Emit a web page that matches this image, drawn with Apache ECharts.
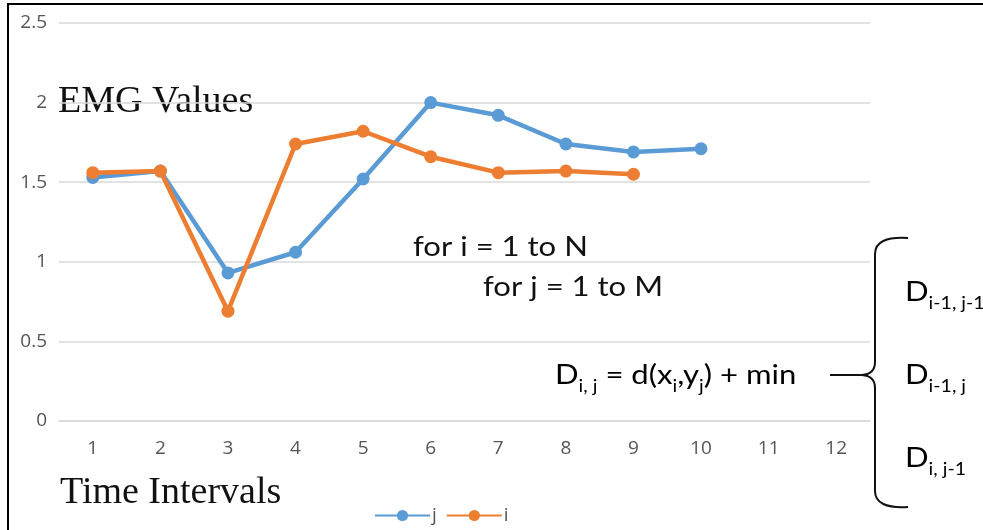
<!DOCTYPE html>
<html>
<head>
<meta charset="utf-8">
<script src="https://cdn.jsdelivr.net/npm/echarts@6/dist/echarts.min.js"></script>
<style>
  html, body { margin: 0; padding: 0; background: #fff; }
  #chart { width: 983px; height: 530px; }
</style>
</head>
<body>
<div id="chart"></div>
<script>
  // time intervals on the x axis
  const intervals = ['1', '2', '3', '4', '5', '6', '7', '8', '9', '10', '11', '12'];
  // EMG values
  const valuesJ = [1.53, 1.57, 0.93, 1.06, 1.52, 2.0, 1.92, 1.74, 1.69, 1.71];
  const valuesI = [1.56, 1.57, 0.69, 1.74, 1.82, 1.66, 1.56, 1.57, 1.55];
  const yTicks = [0, 0.5, 1, 1.5, 2, 2.5];

  const sans = 'Lato, "Open Sans", sans-serif';
  const labelFont = '"Open Sans", Lato, sans-serif';
  const serif = '"Liberation Serif", "DejaVu Serif", serif';
  const sub = { fontFamily: sans, fontSize: 17, padding: [22, 0, 0, 0], color: '#1b1b33' };
  const big = { fontFamily: sans, fontSize: 27, color: '#111' };
  const tick = { fontFamily: labelFont, fontSize: 19, color: '#555' };
  const ink = { stroke: '#111', lineWidth: 2, fill: 'none' };

  const chart = echarts.init(document.getElementById('chart'));

  chart.setOption({
    animation: false,
    grid: { left: 59, right: 113, top: 23, bottom: 109 },
    legend: {
      data: ['j', 'i'],
      left: 369,
      top: 501,
      itemWidth: 55,
      itemHeight: 14,
      itemGap: 9,
      textStyle: { fontFamily: labelFont, fontSize: 19, color: '#555', padding: [0, 0, 0, -3] }
    },
    xAxis: {
      type: 'category',
      data: intervals,
      axisLine: { lineStyle: { color: '#d9d9d9', width: 1.5 } },
      axisTick: { show: false },
      axisLabel: { formatter: '{v|{value}}', rich: { v: tick }, fontSize: 19, margin: 18 }
    },
    yAxis: {
      type: 'value',
      min: yTicks[0],
      max: yTicks[yTicks.length - 1],
      interval: yTicks[1] - yTicks[0],
      axisLine: { show: false },
      axisTick: { show: false },
      splitLine: { lineStyle: { color: '#d9d9d9', width: 1.5 } },
      axisLabel: { formatter: '{v|{value}}', rich: { v: tick }, fontSize: 19, margin: 12 }
    },
    series: [
      {
        name: 'j',
        type: 'line',
        data: valuesJ,
        symbol: 'circle',
        symbolSize: 13,
        lineStyle: { width: 4.5, color: '#5b9bd5' },
        itemStyle: { color: '#5b9bd5' }
      },
      {
        name: 'i',
        type: 'line',
        data: valuesI,
        symbol: 'circle',
        symbolSize: 13,
        lineStyle: { width: 4.5, color: '#ed7d31' },
        itemStyle: { color: '#ed7d31' }
      }
    ],
    graphic: [
      // outer frame
      { type: 'rect', shape: { x: 8, y: 4, width: 1100, height: 700 }, style: { fill: 'none', stroke: '#000', lineWidth: 2 }, silent: true },
      { type: 'text', x: 58, y: 83, style: { text: 'EMG Values', font: '38px ' + serif, fill: '#111' } },
      { type: 'text', x: 60, y: 474, style: { text: 'Time Intervals', font: '38px ' + serif, fill: '#111' } },
      { type: 'text', x: 413, y: 234, scaleX: 1.15, style: { text: 'for i = 1 to N', font: '27px ' + sans, fill: '#111' } },
      { type: 'text', x: 483, y: 274, scaleX: 1.15, style: { text: 'for j = 1 to M', font: '27px ' + sans, fill: '#111' } },
      {
        type: 'text', x: 555, y: 356, scaleX: 1.15,
        style: {
          text: '{b|D}{s|i, j}{b| = d(x}{s|i}{b|,y}{s|j}{b|) + min}',
          rich: { b: big, s: sub }
        }
      },
      { type: 'text', x: 905, y: 273, scaleX: 1.15, style: { text: '{b|D}{s|i-1, j-1}', rich: { b: big, s: sub } } },
      { type: 'text', x: 905, y: 356, scaleX: 1.15, style: { text: '{b|D}{s|i-1, j}', rich: { b: big, s: sub } } },
      { type: 'text', x: 905, y: 439, scaleX: 1.15, style: { text: '{b|D}{s|i, j-1}', rich: { b: big, s: sub } } },
      // curly brace
      { type: 'bezierCurve', shape: { x1: 908, y1: 238, cpx1: 875, cpy1: 236, x2: 875, y2: 254 }, style: ink },
      { type: 'line', shape: { x1: 875, y1: 254, x2: 875, y2: 362 }, style: ink },
      { type: 'bezierCurve', shape: { x1: 875, y1: 362, cpx1: 875, cpy1: 374, x2: 862, y2: 375 }, style: ink },
      { type: 'bezierCurve', shape: { x1: 862, y1: 375, cpx1: 875, cpy1: 376, x2: 875, y2: 388 }, style: ink },
      { type: 'line', shape: { x1: 875, y1: 388, x2: 875, y2: 491 }, style: ink },
      { type: 'bezierCurve', shape: { x1: 875, y1: 491, cpx1: 875, cpy1: 509, x2: 908, y2: 507 }, style: ink },
      { type: 'line', shape: { x1: 830, y1: 375, x2: 863, y2: 375 }, style: ink }
    ]
  });
</script>
</body>
</html>
